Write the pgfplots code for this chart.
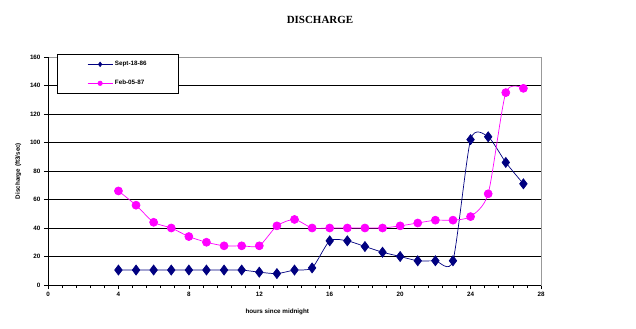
\documentclass[border=0pt]{standalone}
\usepackage{pgfplots}
\pgfplotsset{compat=1.18}
\usepackage{fontspec}
\setmainfont{Liberation Sans}
\newfontfamily\titlefont{Liberation Serif}
\definecolor{navy}{RGB}{0,0,128}
\definecolor{mag}{RGB}{255,0,255}
\begin{document}
\begin{tikzpicture}
\useasboundingbox (-48bp,-44bp) rectangle (588bp,285bp);
\begin{axis}[
  at={(0,0)}, anchor=south west,
  scale only axis, width=493bp, height=228bp,
  xmin=0, xmax=28, ymin=0, ymax=160,
  xtick={0,4,...,28}, ytick={0,20,...,160},
  minor x tick num=4,
  tick align=outside, tickpos=left,
  major tick length=4bp, minor tick length=3bp,
  every tick/.style={black, line width=0.6pt},
  ymajorgrids, major grid style={black, line width=0.8pt},
  axis line style={gray!80, line width=0.8pt},
  tick label style={font=\fontsize{6.3}{7}\selectfont\bfseries},
  /pgf/number format/assume math mode=true,
  xlabel={hours since midnight}, ylabel={Discharge (ft3/sec)},
  label style={font=\fontsize{6.3}{7}\selectfont\bfseries},
  xlabel style={at={(ticklabel cs:0.465)}, anchor=north, yshift=-5bp},
  ylabel style={yshift=2bp},
  legend style={at={(rel axis cs:0.018,1.013)}, anchor=north west, draw=black, line width=0.8pt, fill=white,
    font=\fontsize{6.3}{7}\selectfont\bfseries, inner xsep=30bp, inner ysep=5bp, row sep=9bp},
  legend cell align=left,
  legend image code/.code={\draw[mark repeat=2,mark phase=2,#1, mark size=2.2bp] plot coordinates {(0bp,0bp)(12.5bp,0bp)(25bp,0bp)};},
  clip=false,
  after end axis/.code={
    \draw[black, line width=0.8pt] (rel axis cs:0,1) -- (rel axis cs:0,0) -- (rel axis cs:1,0);
  },
]
\addplot[navy, line width=0.7pt, smooth, tension=0.4, mark=diamond*, mark size=5bp, mark options={fill=navy, draw=navy}] coordinates {
(4,10.5)(5,10.5)(6,10.5)(7,10.5)(8,10.5)(9,10.5)(10,10.5)(11,10.5)(12,9)(13,8)(14,10.5)(15,12)
(16,31)(17,31)(18,27)(19,23)(20,20)(21,17)(22,17)(23,17)(24,102)(25,104)(26,86)(27,71)};
\addlegendentry{Sept-18-86}
\addplot[mag, line width=0.7pt, smooth, tension=0.4, mark=*, mark size=4bp, mark options={fill=mag, draw=mag}] coordinates {
(4,66)(5,56)(6,44)(7,40)(8,34)(9,30)(10,27.5)(11,27.5)(12,27.5)(13,41.5)(14,46)(15,40)
(16,40)(17,40)(18,40)(19,40)(20,41.5)(21,43.5)(22,45.5)(23,45.5)(24,48)(25,64)(26,135)(27,138)};
\addlegendentry{Feb-05-87}
\end{axis}
\node[font=\titlefont\fontsize{11}{12}\selectfont\bfseries] at (272bp,265bp) {DISCHARGE};
\end{tikzpicture}
\end{document}
